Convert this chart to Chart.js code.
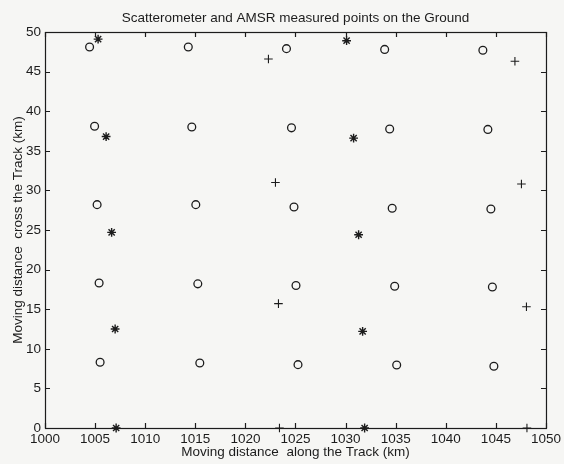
<!DOCTYPE html>
<html>
<head>
<meta charset="utf-8">
<script src="https://cdn.jsdelivr.net/npm/chart.js@4/dist/chart.umd.min.js"></script>
<style>
    html, body { margin: 0; padding: 0; background: #f6f6f4; }
    #wrap { width: 564px; height: 464px; }
</style>
</head>
<body>
<div id="wrap"><canvas id="grafico" width="564" height="464"></canvas></div>
<script>
const amsrX = [1004.45, 1004.95, 1005.2, 1005.4, 1005.5,
               1014.3, 1014.65, 1015.05, 1015.25, 1015.45,
               1024.1, 1024.6, 1024.85, 1025.05, 1025.25,
               1033.9, 1034.4, 1034.65, 1034.9, 1035.1,
               1043.7, 1044.2, 1044.5, 1044.65, 1044.8];
const amsrY = [48.1, 38.1, 28.2, 18.3, 8.3,
               48.1, 38.0, 28.2, 18.2, 8.2,
               47.9, 37.9, 27.9, 18.0, 8.0,
               47.8, 37.75, 27.75, 17.9, 7.95,
               47.7, 37.7, 27.65, 17.8, 7.8];

const scatX = [1005.3, 1006.1, 1006.65, 1007.0, 1007.1,
               1030.1, 1030.8, 1031.3, 1031.7, 1031.9];
const scatY = [49.1, 36.8, 24.7, 12.5, 0,
               48.9, 36.6, 24.4, 12.2, 0];

const plusX = [1022.3, 1023.0, 1023.3, 1023.4,
               1046.9, 1047.55, 1048.05, 1048.1];
const plusY = [46.6, 31.0, 15.7, 0,
               46.3, 30.8, 15.3, 0];

const xTicks = [1000, 1005, 1010, 1015, 1020, 1025, 1030, 1035, 1040, 1045, 1050];
const yTicks = [0, 5, 10, 15, 20, 25, 30, 35, 40, 45, 50];

const titulo = 'Scatterometer and AMSR measured points on the Ground';
const tituloX = 'Moving distance  along the Track (km)';
const tituloY = 'Moving distance  cross the Track (km)';

const cor = '#1c1c1c';

function pares(xs, ys) {
    return xs.map((x, i) => ({ x: x, y: ys[i] }));
}

// caixa + ticks para dentro nos quatro lados (estilo matlab)
const caixaPlugin = {
    id: 'caixa',
    afterDraw(chart) {
        const ctx = chart.ctx;
        const a = chart.chartArea;
        const sx = chart.scales.x;
        const sy = chart.scales.y;
        const len = 5;
        ctx.save();
        ctx.strokeStyle = cor;
        ctx.lineWidth = 1.2;
        ctx.strokeRect(a.left + 0.5, a.top + 0.5, a.right - a.left, a.bottom - a.top);
        ctx.beginPath();
        xTicks.forEach(v => {
            const px = Math.round(sx.getPixelForValue(v)) + 0.5;
            ctx.moveTo(px, a.bottom); ctx.lineTo(px, a.bottom - len);
            ctx.moveTo(px, a.top); ctx.lineTo(px, a.top + len);
        });
        yTicks.forEach(v => {
            const py = Math.round(sy.getPixelForValue(v)) + 0.5;
            ctx.moveTo(a.left, py); ctx.lineTo(a.left + len, py);
            ctx.moveTo(a.right, py); ctx.lineTo(a.right - len, py);
        });
        ctx.stroke();
        ctx.restore();
    }
};

Chart.defaults.font.family = '"Liberation Sans", Arial, Helvetica, sans-serif';
Chart.defaults.color = cor;

new Chart(document.getElementById('grafico').getContext('2d'), {
    type: 'scatter',
    data: {
        datasets: [
            {
                label: 'AMSR',
                data: pares(amsrX, amsrY),
                pointStyle: 'circle',
                pointRadius: 3.9,
                borderWidth: 1.3,
                borderColor: cor,
                backgroundColor: 'transparent',
                clip: false
            },
            {
                label: 'Scatterometer',
                data: pares(scatX, scatY),
                pointStyle: 'star',
                pointRadius: 4.4,
                borderWidth: 1.4,
                borderColor: cor,
                backgroundColor: 'transparent',
                clip: false
            },
            {
                label: 'Scatterometer +',
                data: pares(plusX, plusY),
                pointStyle: 'cross',
                pointRadius: 4.3,
                borderWidth: 1.1,
                borderColor: cor,
                backgroundColor: 'transparent',
                clip: false
            }
        ]
    },
    options: {
        responsive: false,
        animation: false,
        events: [],
        layout: { padding: { left: 0, right: 15, top: 0, bottom: 0 } },
        plugins: {
            legend: { display: false },
            tooltip: { enabled: false },
            title: {
                display: true,
                text: titulo,
                fullSize: false,
                color: cor,
                font: { size: 13.5, weight: 'normal' },
                padding: { top: 10.5, bottom: 5.3 }
            }
        },
        scales: {
            x: {
                type: 'linear',
                min: 1000,
                max: 1050,
                afterFit: s => { s.height = 36; },
                grid: { drawOnChartArea: false, drawTicks: false },
                border: { display: false },
                ticks: {
                    stepSize: 5,
                    padding: 3,
                    maxRotation: 0,
                    color: cor,
                    font: { size: 13.5 },
                    callback: v => String(v)
                },
                title: {
                    display: true,
                    text: tituloX,
                    color: cor,
                    font: { size: 13.5 },
                    padding: { top: 0, bottom: 3.5 }
                }
            },
            y: {
                type: 'linear',
                min: 0,
                max: 50,
                afterFit: s => { s.width = 45; },
                grid: { drawOnChartArea: false, drawTicks: false },
                border: { display: false },
                ticks: {
                    stepSize: 5,
                    padding: 4,
                    color: cor,
                    font: { size: 13.5 },
                    callback: v => String(v)
                },
                title: {
                    display: true,
                    text: tituloY,
                    color: cor,
                    font: { size: 13.5 },
                    padding: { top: 10, bottom: 0 }
                }
            }
        }
    },
    plugins: [caixaPlugin]
});
</script>
</body>
</html>
